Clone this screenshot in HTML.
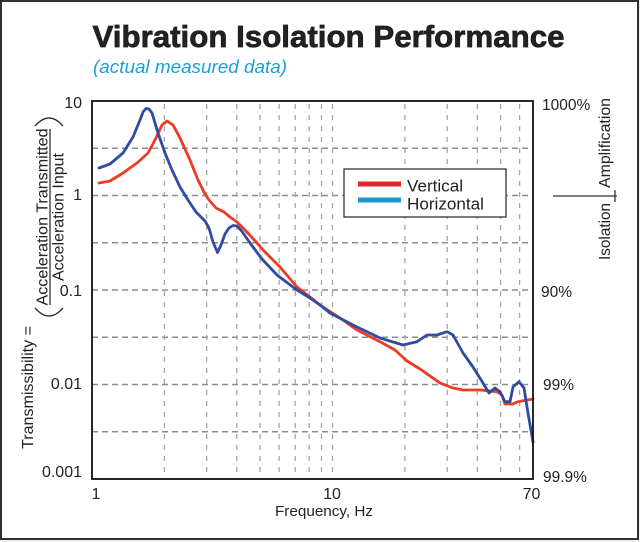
<!DOCTYPE html>
<html>
<head>
<meta charset="utf-8">
<style>
  html,body{margin:0;padding:0;background:#ededed;}
  body{width:640px;height:542px;position:relative;overflow:hidden;}
  .frame{position:absolute;left:0;top:0;width:639px;height:540px;box-sizing:border-box;border:2.5px solid #303030;background:#fff;}
  svg{position:absolute;left:0;top:0;}
  text{font-family:"Liberation Sans", Arial, sans-serif;fill:#222;}
</style>
</head>
<body>
<div class="frame"></div>
<svg width="640" height="542" viewBox="0 0 640 542" xmlns="http://www.w3.org/2000/svg">
  <!-- Title -->
  <text x="92.5" y="47" font-size="31" font-weight="bold" fill="#1a1a1a" stroke="#1a1a1a" stroke-width="0.7" textLength="472" lengthAdjust="spacingAndGlyphs">Vibration Isolation Performance</text>
  <text x="93" y="73" font-size="18.5" font-style="italic" fill="#1aa0d8" style="fill:#1aa0d8" textLength="194" lengthAdjust="spacingAndGlyphs">(actual measured data)</text>

  <!-- Horizontal gridlines -->
  <g stroke="#8c8c8c" stroke-width="1.4" stroke-dasharray="6 4">
    <line x1="92" y1="148.25" x2="533" y2="148.25"/>
    <line x1="92" y1="195.5" x2="533" y2="195.5"/>
    <line x1="92" y1="242.75" x2="533" y2="242.75"/>
    <line x1="92" y1="290" x2="533" y2="290"/>
    <line x1="92" y1="337.25" x2="533" y2="337.25"/>
    <line x1="92" y1="384.5" x2="533" y2="384.5"/>
    <line x1="92" y1="431.75" x2="533" y2="431.75"/>
  </g>
  <!-- Vertical gridlines -->
  <g stroke="#a6a6a6" stroke-width="1.3" stroke-dasharray="5 6">
    <line x1="164.4" y1="104" x2="164.4" y2="479"/>
    <line x1="206.7" y1="104" x2="206.7" y2="479"/>
    <line x1="236.8" y1="104" x2="236.8" y2="479"/>
    <line x1="260.1" y1="104" x2="260.1" y2="479"/>
    <line x1="279.1" y1="104" x2="279.1" y2="479"/>
    <line x1="295.2" y1="104" x2="295.2" y2="479"/>
    <line x1="309.2" y1="104" x2="309.2" y2="479"/>
    <line x1="321.5" y1="104" x2="321.5" y2="479"/>
    <line x1="332.5" y1="104" x2="332.5" y2="479"/>
    <line x1="404.9" y1="104" x2="404.9" y2="479"/>
    <line x1="447.2" y1="104" x2="447.2" y2="479"/>
    <line x1="477.3" y1="104" x2="477.3" y2="479"/>
    <line x1="500.6" y1="104" x2="500.6" y2="479"/>
    <line x1="519.6" y1="104" x2="519.6" y2="479"/>
  </g>

  <!-- Curves -->
  <polyline fill="none" stroke="#ee3b24" stroke-width="2.8" stroke-linejoin="round" stroke-linecap="round"
    points="99,183 110,181 123,173 137,163 148,153 155,140 162,125 167,121 173,125 180,138 190,160 198,180 205,194 209,200 216,208 224,212 230,217 237,222 245,230 257,243 265,252 280,267 297,287 310,297 320,305 340,318 357,330 380,341.7 395,350 407,361 420,369 440,383 453,388 463,390 480,390 497,391.7 502,395 505,404 513,404 517,402 523,400.7 533,399"/>
  <polyline fill="none" stroke="#2e4ca2" stroke-width="2.8" stroke-linejoin="round" stroke-linecap="round"
    points="99,168 110,164 123,153 133,137 140,120 143,112 146,108.5 149,109 152,113 158,133 165,153 172,170 180,187 188,200 196,212 205,221 209,228 213,242 217.5,252.5 221,245 225,234 229,228 233,225.5 237,226 241.7,231 250,243 262,259 277,275 297,290 310,298 320,305 330,313 353,325 380,338 403,345 417,341.7 427,335 437,335 447,331.7 453,335 463,353 473,367 483,383 489,393 495,388 500,391.7 505,401.7 510,401.7 513,387 519,381.7 524,388 528,413 533,442"/>

  <!-- Plot frame -->
  <rect x="92" y="101" width="441" height="378" fill="none" stroke="#111" stroke-width="1.8"/>

  <!-- Legend -->
  <rect x="344" y="169" width="162" height="48" fill="#fff" stroke="#333" stroke-width="1.3"/>
  <line x1="358" y1="184" x2="401" y2="184" stroke="#e0262b" stroke-width="5"/>
  <line x1="358" y1="200" x2="401" y2="200" stroke="#1a9ad0" stroke-width="5"/>
  <text x="407" y="191.5" font-size="16.5" textLength="56" lengthAdjust="spacingAndGlyphs">Vertical</text>
  <text x="407" y="209.5" font-size="16.5" textLength="77" lengthAdjust="spacingAndGlyphs">Horizontal</text>

  <!-- Left tick labels -->
  <g font-size="16" text-anchor="end">
    <text x="82" y="108">10</text>
    <text x="82" y="200">1</text>
    <text x="82" y="296">0.1</text>
    <text x="82" y="389">0.01</text>
    <text x="82" y="477">0.001</text>
  </g>
  <!-- Right tick labels -->
  <g font-size="15.5">
    <text x="542" y="110">1000%</text>
    <text x="541" y="297">90%</text>
    <text x="543" y="390">99%</text>
    <text x="543" y="482">99.9%</text>
  </g>
  <!-- X tick labels -->
  <g font-size="16" text-anchor="middle">
    <text x="96" y="499">1</text>
    <text x="332" y="499">10</text>
    <text x="531.5" y="499">70</text>
  </g>
  <text x="324" y="516" font-size="15" text-anchor="middle" textLength="98" lengthAdjust="spacingAndGlyphs">Frequency, Hz</text>

  <!-- Left axis label -->
  <text transform="translate(33,387.5) rotate(-90)" font-size="16" text-anchor="middle" textLength="123" lengthAdjust="spacingAndGlyphs">Transmissibility =</text>
  <path d="M35,308 Q49,324 63,308" fill="none" stroke="#222" stroke-width="1.3"/>
  <path d="M35,126 Q49,110 63,126" fill="none" stroke="#222" stroke-width="1.3"/>
  <text transform="translate(47.5,217) rotate(-90)" font-size="16" text-anchor="middle" textLength="177" lengthAdjust="spacingAndGlyphs">Acceleration Transmitted</text>
  <line x1="50" y1="129" x2="50" y2="305" stroke="#222" stroke-width="1.2"/>
  <text transform="translate(63.5,217) rotate(-90)" font-size="16" text-anchor="middle" textLength="128" lengthAdjust="spacingAndGlyphs">Acceleration Input</text>

  <!-- Right axis label -->
  <text transform="translate(610,143) rotate(-90)" font-size="16" text-anchor="middle" textLength="90" lengthAdjust="spacingAndGlyphs">Amplification</text>
  <text transform="translate(610,231.5) rotate(-90)" font-size="16" text-anchor="middle" textLength="57" lengthAdjust="spacingAndGlyphs">Isolation</text>
  <line x1="553" y1="196" x2="617" y2="196" stroke="#333" stroke-width="1.3"/>
  <line x1="615" y1="190" x2="615" y2="202" stroke="#333" stroke-width="1.3"/>
</svg>
</body>
</html>
